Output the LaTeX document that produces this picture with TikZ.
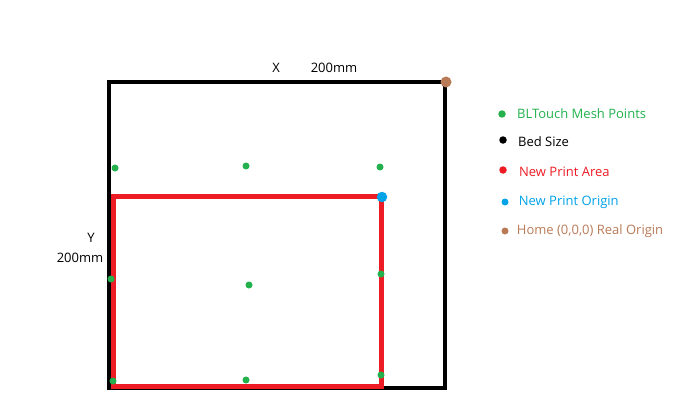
\documentclass[tikz,border=0pt]{standalone}
\usepackage{fontspec}
\setmainfont{Open Sans}
\usetikzlibrary{positioning}

\definecolor{meshgreen}{RGB}{34,177,76}
\definecolor{areared}{RGB}{237,28,36}
\definecolor{originblue}{RGB}{0,162,232}
\definecolor{homebrown}{RGB}{185,122,87}

\begin{document}
\begin{tikzpicture}[
			x=1pt, y=-1pt,
			font=\fontsize{13}{15}\selectfont,
			dot/.style={circle, inner sep=0pt, minimum size=7pt},
			mesh/.style={dot, fill=meshgreen},
			keydot/.style={dot, minimum size=7.5pt},
			keytext/.style={inner sep=0pt, anchor=west},
			label/.style={inner sep=0pt, text=black}
			]
			
			% page frame
			\useasboundingbox (0,0) rectangle (674,417);
			
			% Bed size
			\coordinate (bedNW) at (109,82);
			\coordinate (bedSE) at (445,388);
			\draw[line width=4.5pt, black] (bedNW) rectangle (bedSE);
			
			% New print area
			\coordinate (areaNW) at (113.5,196.5);
			\coordinate (areaSE) at (381,386);
			\draw[line width=5pt, areared] (areaNW) rectangle (areaSE);
			
			% Axis labels
			\node[label] (xlab) at (276,68) {X};
			\node[label] (xsize) at (334,68) {200mm};
			\node[label] (ylab) at (91,238) {Y};
			\node[label] (ysize) at (80,258) {200mm};
			
			% Mesh points
			\node[mesh] (m1) at (115,168) {};
			\node[mesh] (m2) at (246,166) {};
			\node[mesh] (m3) at (380,167) {};
			\node[mesh] (m4) at (111,279) {};
			\node[mesh] (m5) at (249,285) {};
			\node[mesh] (m6) at (381,274) {};
			\node[mesh] (m7) at (113,381) {};
			\node[mesh] (m8) at (246,380) {};
			\node[mesh] (m9) at (381,375) {};
			
			% Origins
			\node[dot, fill=originblue, minimum width=9.5pt, minimum height=10.5pt] (neworigin) at (382,197) {};
			\node[dot, fill=homebrown, minimum size=11pt] (home) at (446,82) {};
			
			% Key
			\node[keydot, fill=meshgreen] (kmesh) at (502,114) {};
			\node[keytext, text=meshgreen, right=11pt of kmesh] (tmesh) {BLTouch Mesh Points};
			\node[keydot, fill=black] (kbed) at (503,140) {};
			\node[keytext, text=black, right=11pt of kbed, yshift=-2pt] (tbed) {Bed Size};
			\node[keydot, fill=areared] (karea) at (503,170) {};
			\node[keytext, text=areared, right=12pt of karea, yshift=-2pt] (tarea) {New Print Area};
			\node[keydot, fill=originblue, minimum size=7pt] (korigin) at (505,202) {};
			\node[keytext, text=originblue, right=10pt of korigin] (torigin) {New Print Origin};
			\node[keydot, fill=homebrown, minimum size=7pt] (khome) at (505,231) {};
			\node[keytext, text=homebrown, right=8pt of khome] (thome) {Home (0,0,0) Real Origin};
			
		\end{tikzpicture}
\end{document}
